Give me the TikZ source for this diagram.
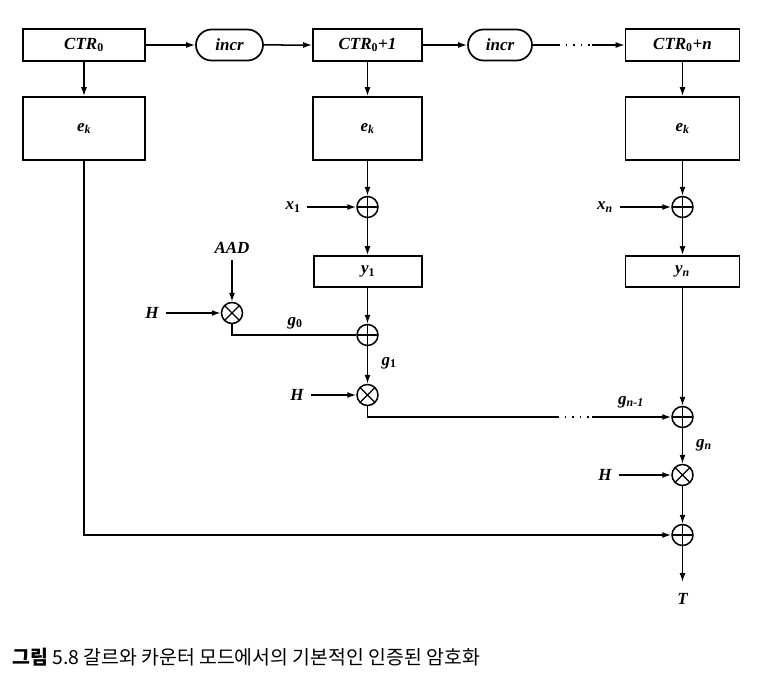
\documentclass[tikz,border=0pt]{standalone}
\usepackage{fontspec}
\setmainfont{Liberation Serif}
\newfontfamily\krfont{Noto Sans CJK KR}
\usetikzlibrary{shapes.misc,arrows.meta}
\newcommand\lsub[1]{\textsubscript{#1}}
\tikzset{
  lblfont/.style={font=\fontsize{17}{19}\selectfont\bfseries\itshape},
  lbl/.style={lblfont, inner sep=0pt},
  blk/.style={draw, line width=1.7pt, inner sep=0pt, lblfont},
  rr/.style={rounded rectangle, draw, line width=1.7pt, inner sep=0pt, lblfont},
  xorop/.style={circle, draw, line width=1.5pt, minimum size=21pt, inner sep=0pt,
    path picture={\draw[line width=1.3pt] (path picture bounding box.north) -- (path picture bounding box.south)
      (path picture bounding box.west) -- (path picture bounding box.east);}},
  mulop/.style={circle, draw, line width=1.5pt, minimum size=21pt, inner sep=0pt,
    path picture={\draw[line width=1.3pt] (path picture bounding box.north west) -- (path picture bounding box.south east)
      (path picture bounding box.north east) -- (path picture bounding box.south west);}},
  ar/.style={-{Latex[length=9pt,width=6pt]}, line width=1.5pt},
  ln/.style={line width=1.5pt},
  dots/.style={line width=1.5pt, dash pattern=on 1.5pt off 6pt},
}
\begin{document}
\begin{tikzpicture}[x=1pt,y=-1pt]
\useasboundingbox (0,0) rectangle (777,688);
% top row
\node[blk, minimum width=122pt, minimum height=32pt] (ctr0) at (84,45) {CTR{\upshape\lsub{0}}};
\node[rr, minimum width=67pt, minimum height=31pt] (inc1) at (229.5,45) {incr};
\node[blk, minimum width=109pt, minimum height=32pt] (ctr1) at (367.5,45) {CTR{\upshape\lsub{0}}+1};
\node[rr, minimum width=64pt, minimum height=31pt] (inc2) at (500,45) {incr};
\node[blk, minimum width=114pt, minimum height=32pt] (ctrn) at (682.5,45) {CTR{\upshape\lsub{0}}+n};
\coordinate (d1a) at (558,45);
\coordinate (d1b) at (592,45);
\draw[ar] (ctr0) -- (inc1);
\draw[ar] (inc1) -- (ctr1);
\draw[ar] (ctr1) -- (inc2);
\draw[ln] (inc2.east) -- (d1a);
\draw[dots] (d1a) -- (d1b);
\draw[ar] (d1b) -- (ctrn.west);
% ek boxes
\node[blk, minimum width=122pt, minimum height=63pt] (ek0) at (84,128.5) {e\lsub{k}};
\node[blk, minimum width=109pt, minimum height=63pt] (ek1) at (367.5,128.5) {e\lsub{k}};
\node[blk, minimum width=114pt, minimum height=63pt] (ekn) at (682.5,128.5) {e\lsub{k}};
\draw[ar] (ctr0) -- (ek0);
\draw[ar] (ctr1) -- (ek1);
\draw[ar] (ctrn) -- (ekn);
% middle column
\node[xorop] (xo1) at (367.5,207) {};
\node[lbl] (lx1) at (293,207) {x{\upshape\lsub{1}}};
\node[blk, minimum width=108pt, minimum height=31pt] (y1) at (368,271.5) {y{\upshape\lsub{1}}};
\node[xorop] (xo2) at (367.5,335) {};
\node[mulop] (mu1) at (367.5,395) {};
\node[lbl] (lh2) at (297,395) {H};
\node[lbl] (lg1) at (389,363) {g{\upshape\lsub{1}}};
\draw[ar] (ek1) -- (xo1);
\draw[ar, shorten <=6pt] (lx1) -- (xo1);
\draw[ar] (xo1) -- (xo1 |- y1.north);
\draw[ar] (xo2 |- y1.south) -- (xo2);
\draw[ar] (xo2) -- (mu1);
\draw[ar, shorten <=7pt] (lh2) -- (mu1);
% AAD part
\node[lbl] (aad) at (232,248) {AAD};
\node[mulop] (mu0) at (232,313) {};
\node[lbl] (lh1) at (152,313) {H};
\node[lbl] (lg0) at (295,323) {g{\upshape\lsub{0}}};
\draw[ar, shorten <=6pt] (aad) -- (mu0);
\draw[ar, shorten <=7pt] (lh1) -- (mu0);
\draw[ln] (mu0.south) |- (xo2.west);
% right column
\node[xorop] (xon) at (682.5,207) {};
\node[lbl] (lxn) at (605,207) {x\lsub{n}};
\node[blk, minimum width=114pt, minimum height=31pt] (yn) at (682.5,271.5) {y\lsub{n}};
\node[xorop] (xo3) at (682.5,417) {};
\node[lbl] (lgn1) at (631,402) {g{\lsub{n-1}}};
\node[lbl] (lgn) at (704,445) {g\lsub{n}};
\node[mulop] (mun) at (682.5,475) {};
\node[lbl] (lh3) at (605,475) {H};
\node[xorop] (xo4) at (682.5,535) {};
\coordinate (outp) at (682.5,582);
\node[lbl] (tag) at (682.5,599) {T};
\draw[ar] (ekn) -- (xon);
\draw[ar, shorten <=7pt] (lxn) -- (xon);
\draw[ar] (xon) -- (yn);
\draw[ar] (yn) -- (xo3);
\draw[ar] (xo3) -- (mun);
\draw[ar, shorten <=7pt] (lh3) -- (mun);
\draw[ar] (mun) -- (xo4);
\draw[ar] (xo4) -- (outp);
% g_n-1 line
\coordinate (c1) at (367.5,417);
\coordinate (d2a) at (557,417);
\coordinate (d2b) at (592,417);
\draw[ln] (mu1.south) -- (c1) -- (d2a);
\draw[dots] (d2a) -- (d2b);
\draw[ar] (d2b) -- (xo3.west);
% left long line
\draw[ar] (ek0.south) |- (xo4.west);
% caption
\node[anchor=west, inner sep=0pt, font=\krfont\fontsize{19.4}{22}\selectfont] (cap) at (12,657)
  {{\bfseries 그림} 5.8 갈르와 카운터 모드에서의 기본적인 인증된 암호화};
\end{tikzpicture}
\end{document}
